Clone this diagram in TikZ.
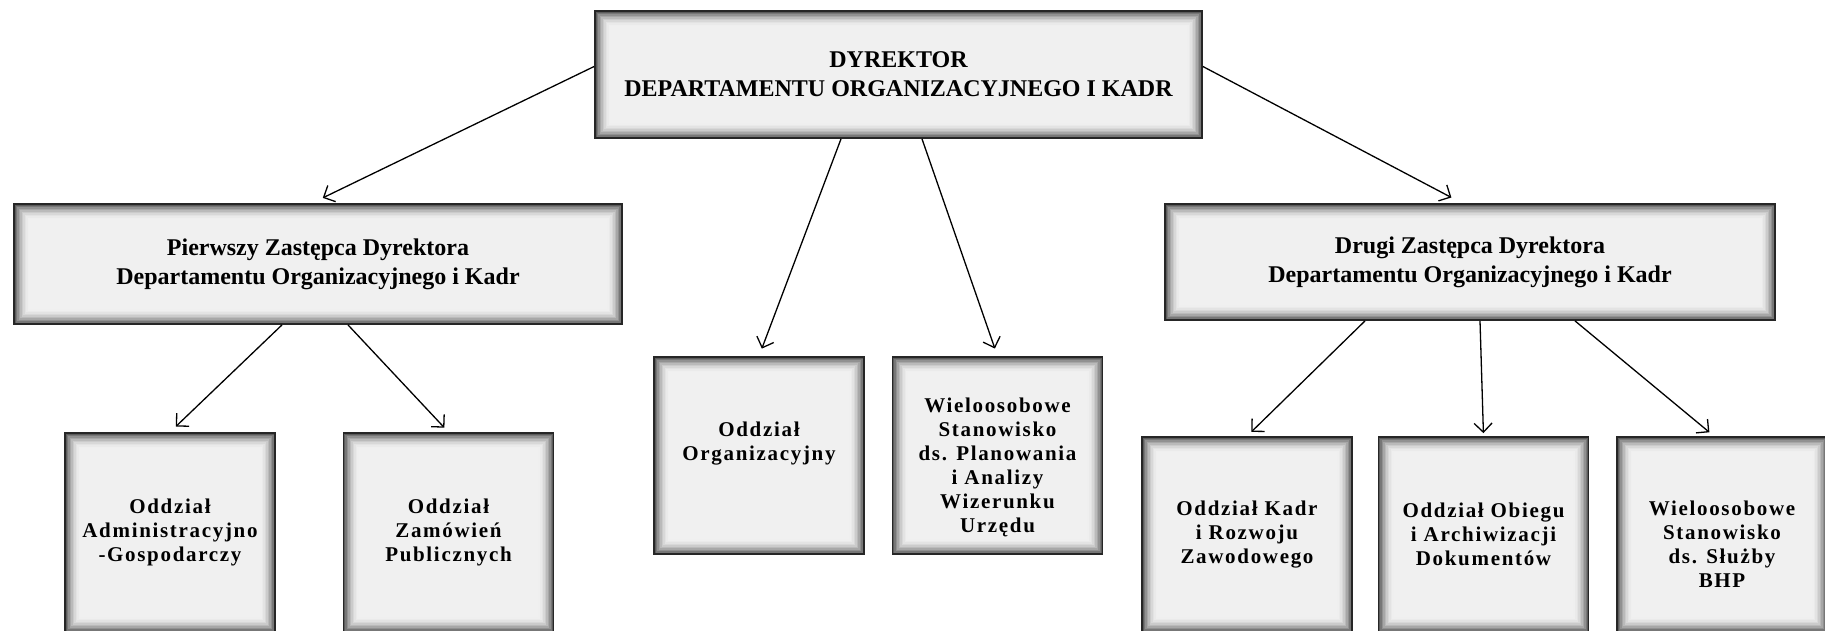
\documentclass[tikz,border=0pt]{standalone}
\usepackage{fontspec}
\setmainfont{Liberation Serif}
\usetikzlibrary{arrows.meta}
\definecolor{boxfill}{RGB}{240,240,240}
\begin{document}
\begin{tikzpicture}[x=1pt,y=-1pt,thick,
    box/.style={draw=black!85,line width=1.8pt,fill=boxfill,inner sep=4pt,align=center,
      path picture={
        \foreach \i in {0,...,9}{
          \pgfmathsetmacro{\tone}{62*(1-\i/10)^2}
          \draw[draw=black!\tone!boxfill,line width=1.6pt]
            ([shift={(\i*1.5pt+0.8pt,\i*1.5pt+0.8pt)}]path picture bounding box.south west)
            rectangle ([shift={(-\i*1.5pt-0.8pt,-\i*1.5pt-0.8pt)}]path picture bounding box.north east);
        }}},
    head node/.style={box,font=\fontsize{24}{29}\selectfont\bfseries},
    unit node/.style={box,minimum width=210pt,font=\fontsize{21}{24}\selectfont\bfseries\addfontfeatures{LetterSpace=8}},
    every edge/.style={draw,-{Straight Barb[length=9pt,width=18pt]},line width=1.3pt}]
                \useasboundingbox (0,0) rectangle (1825,630);

                \node[head node,minimum width=607pt,minimum height=127pt] at (898.5, 74.5) (dyr) {DYREKTOR\\DEPARTAMENTU ORGANIZACYJNEGO I KADR};
                \node[head node,minimum width=608pt,minimum height=120pt] at (318, 264) (zast1) {Pierwszy Zastępca Dyrektora\\Departamentu Organizacyjnego i Kadr};
                \node[head node,minimum width=610pt,minimum height=116pt] at (1470, 262) (zast2) {Drugi Zastępca Dyrektora\\Departamentu Organizacyjnego i Kadr};

                \node[unit node,minimum height=199pt] at (170, 532.5) (adm) {Oddział\\Administracyjno\\-Gospodarczy};
                \node[unit node,minimum height=199pt] at (448.5, 532.5) (zam) {Oddział\\Zamówień\\Publicznych};
                \node[unit node,minimum height=197pt] at (759, 455.5) (org) {Oddział\\Organizacyjny\\[4pt]\mbox{}};
                \node[unit node,minimum height=197pt] at (997.5, 455.5) (wiel) {\mbox{}\\[14pt]Wieloosobowe\\Stanowisko\\ds. Planowania\\i Analizy\\Wizerunku\\Urzędu};
                \node[unit node,minimum height=195pt] at (1247, 534.5) (kadr) {Oddział Kadr\\i Rozwoju\\Zawodowego};
                \node[unit node,minimum height=195pt] at (1483.5, 534.5) (obieg) {Oddział Obiegu\\i Archiwizacji\\Dokumentów};
                \node[unit node,minimum height=195pt] at (1722, 534.5) (bhp) {\mbox{}\\[10pt]Wieloosobowe\\Stanowisko\\ds. Służby\\BHP};

                \path
                    ([yshift=8pt]dyr.west) edge[shorten >=12pt] ([xshift=-6pt]zast1.north)
                    ([yshift=8pt]dyr.east) edge[shorten >=12pt] ([xshift=-8pt]zast2.north)
                    ([xshift=-57.5pt]dyr.south) edge[shorten >=8pt] (org.north)
                    ([xshift=23.5pt]dyr.south) edge[shorten >=8pt] (wiel.north)
                    ([xshift=-36pt]zast1.south) edge[shorten >=8pt] (adm.north)
                    ([xshift=30pt]zast1.south) edge[shorten >=6pt] (zam.north)
                    ([xshift=-105pt]zast2.south) edge[shorten >=6pt] (kadr.north)
                    ([xshift=10pt]zast2.south) edge[shorten >=3pt] (obieg.north)
                    ([xshift=105pt]zast2.south) edge[shorten >=6pt] ([xshift=-8pt]bhp.north)
                    ;
            \end{tikzpicture}
\end{document}
